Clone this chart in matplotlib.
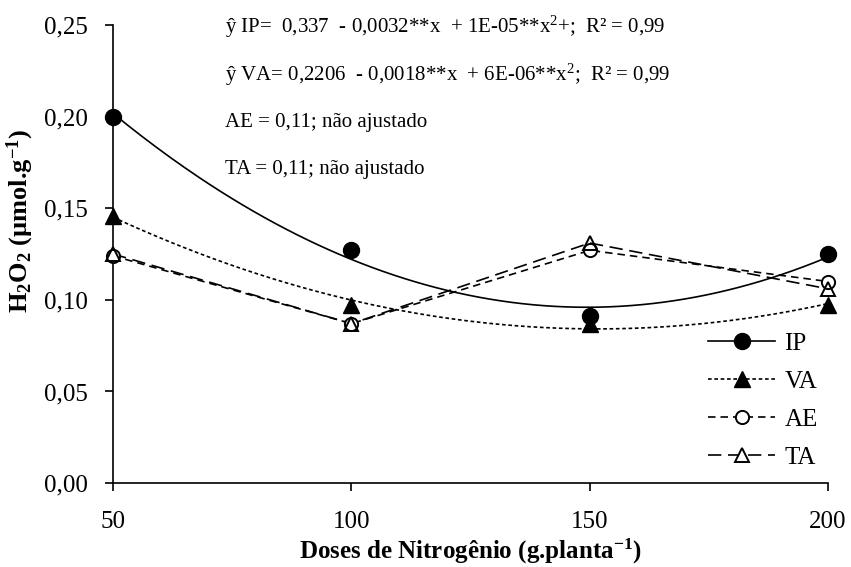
import numpy as np
import matplotlib
matplotlib.use("Agg")
import matplotlib.pyplot as plt
from matplotlib.lines import Line2D

plt.rcParams['font.family'] = ['Liberation Serif', 'DejaVu Serif']
plt.rcParams['mathtext.fontset'] = 'custom'
plt.rcParams['mathtext.rm'] = 'Liberation Serif'
plt.rcParams['mathtext.it'] = 'Liberation Serif:italic'
plt.rcParams['mathtext.bf'] = 'Liberation Serif:bold'

#%% H2O2 por dose de nitrogenio
doses = [50, 100, 150, 200]
ip = [0.200, 0.127, 0.091, 0.125]
va = [0.146, 0.097, 0.087, 0.097]
ae = [0.124, 0.087, 0.127, 0.110]
ta = [0.125, 0.087, 0.131, 0.106]

x_ticks = [50, 100, 150, 200]
y_ticks = [0.00, 0.05, 0.10, 0.15, 0.20, 0.25]

eq_lines = [r"ŷ IP=  0,337  - 0,0032**x  + 1E-05**x$^2$+;  R² = 0,99",
            r"ŷ VA= 0,2206  - 0,0018**x  + 6E-06**x$^2$;  R² = 0,99",
            "AE = 0,11; não ajustado",
            "TA = 0,11; não ajustado"]

fig = plt.figure(figsize=(8.51, 5.67), dpi=100)
ax = fig.add_axes([0.133, 0.148, 0.840, 0.808])

# regressao quadratica para IP e VA
xx = np.linspace(doses[0], doses[-1], 200)
ip_fit = np.polyval(np.polyfit(doses, ip, 2), xx)
va_fit = np.polyval(np.polyfit(doses, va, 2), xx)

va_ls = (0, (2.2, 1.6))
ae_ls = (0, (4.5, 3))
ta_ls = (0, (8, 4))

ax.plot(xx, ip_fit, color='black', lw=1.2, ls='-')
ax.plot(xx, va_fit, color='black', lw=1.2, ls=va_ls)
ax.plot(doses, ae, color='black', lw=1.2, ls=ae_ls)
ax.plot(doses, ta, color='black', lw=1.2, ls=ta_ls)

ax.plot(doses, ip, 'o', color='black', ms=11.5, clip_on=False, zorder=5)
ax.plot(doses, va, '^', color='black', ms=11, clip_on=False, zorder=5)
ax.plot(doses, ae, 'o', mfc='white', mec='black', mew=1.4, ms=9.5,
        clip_on=False, zorder=6)
ax.plot(doses, ta, '^', mfc='none', mec='black', mew=1.4, ms=10,
        clip_on=False, zorder=7)

handles = [
    Line2D([], [], color='black', lw=1.2, ls='-', marker='o', ms=11.5),
    Line2D([], [], color='black', lw=1.2, ls=va_ls, marker='^', ms=11),
    Line2D([], [], color='black', lw=1.2, ls=ae_ls, marker='o',
           mfc='white', mec='black', mew=1.4, ms=9.5),
    Line2D([], [], color='black', lw=1.2, ls=ta_ls, marker='^',
           mfc='white', mec='black', mew=1.4, ms=10),
]
ax.legend(handles, ['IP', 'VA', 'AE', 'TA'], loc='upper left',
          bbox_to_anchor=(0.818, 0.35), frameon=False, fontsize=18,
          handlelength=2.7, handletextpad=0.36, labelspacing=0.62,
          borderaxespad=0)

for k, s in enumerate(eq_lines):
    ax.text(73.5, 0.249 - k * 0.026, s, fontsize=15, va='center', ha='left')

ax.set_xlim(50, 200)
ax.set_ylim(0, 0.25)
ax.set_xticks(x_ticks)
ax.set_yticks(y_ticks)
ax.set_yticklabels([f"{v:.2f}".replace('.', ',') for v in y_ticks])
ax.tick_params(labelsize=18, direction='out', length=6, width=1.2)
ax.tick_params(axis='x', pad=14)
ax.tick_params(axis='y', pad=12)
ax.spines['top'].set_visible(False)
ax.spines['right'].set_visible(False)
ax.spines['left'].set_linewidth(1.2)
ax.spines['bottom'].set_linewidth(1.2)

ax.set_xlabel(r"Doses de Nitrogênio (g.planta$^{\mathbf{-1}}$)",
              fontsize=18, fontweight='bold')
ax.set_ylabel(r"H$_{\mathbf{2}}$O$_{\mathbf{2}}$ (µmol.g$^{\mathbf{-1}}$)",
              fontsize=19, fontweight='bold')
ax.yaxis.set_label_coords(-0.108, 0.572)
ax.xaxis.set_label_coords(0.5, -0.118)

fig.savefig("out.png", dpi=100)
